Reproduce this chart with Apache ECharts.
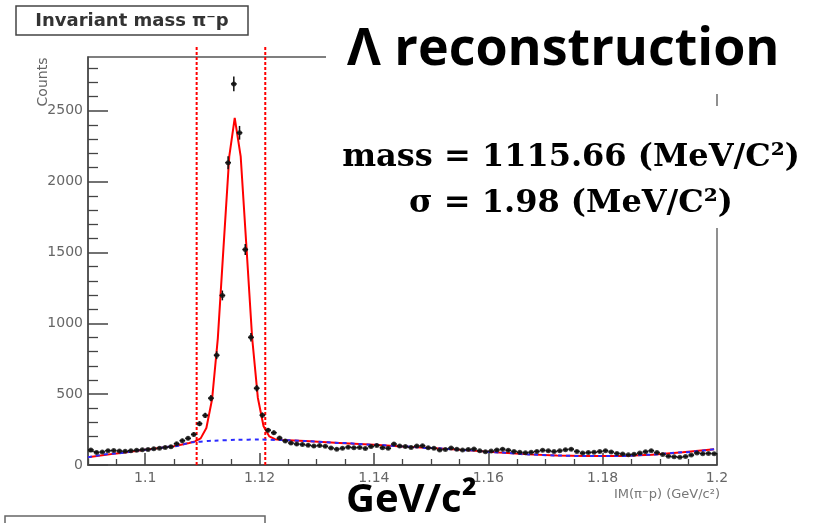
<!DOCTYPE html>
<html>
<head>
<meta charset="utf-8">
<script src="https://cdn.jsdelivr.net/npm/echarts@6/dist/echarts.min.js"></script>
<style>
  html, body { margin: 0; padding: 0; background: #fff; }
  #chart { width: 821px; height: 523px; }
</style>
</head>
<body>
<div id="chart"></div>
<script>
// Invariant mass of pi- p pairs: 1 MeV bins from 1.090 to 1.200 GeV/c^2
const histLow = 1.09;
const binWidth = 0.001;
const counts = [
  106, 88, 92, 101, 102, 99, 97, 101, 104, 108,
  110, 115, 119, 124, 129, 150, 172, 188, 216, 292,
  350, 472, 775, 1197, 2134, 2690, 2345, 1521, 901, 542,
  352, 246, 228, 190, 170, 155, 148, 145, 140, 134,
  137, 132, 120, 112, 118, 126, 122, 124, 117, 130,
  138, 122, 118, 148, 134, 130, 124, 134, 136, 122,
  118, 106, 110, 120, 112, 106, 110, 113, 100, 94,
  98, 106, 112, 104, 96, 90, 87, 90, 96, 104,
  100, 95, 100, 108, 112, 96, 84, 88, 90, 95,
  101, 92, 82, 78, 72, 76, 84, 94, 101, 88,
  75, 62, 58, 55, 60, 70, 85, 80, 82, 80
];

// Gaussian + polynomial fit (peak at 1115.66 MeV, sigma 1.98 MeV)
const fitX = [1.090, 1.095, 1.100, 1.105, 1.1077, 1.1087, 1.1097, 1.1107, 1.1117, 1.1127,
  1.1137, 1.1147, 1.11566, 1.1167, 1.1177, 1.1187, 1.1197, 1.1207, 1.1217, 1.1227,
  1.124, 1.128, 1.134, 1.140, 1.145, 1.150, 1.156, 1.162, 1.167, 1.172,
  1.177, 1.183, 1.1886, 1.194, 1.1995];
const fitY = [55, 82, 107, 132, 155, 167, 188, 261, 464, 892,
  1538, 2176, 2450, 2179, 1544, 900, 475, 274, 202, 182,
  176, 169, 156, 143, 131, 120, 105, 88, 75, 67,
  63, 63, 73, 90, 112];

// Background component of the fit
const bkgX = [1.090, 1.095, 1.100, 1.105, 1.1087, 1.112, 1.116, 1.120, 1.124, 1.128,
  1.134, 1.140, 1.145, 1.150, 1.156, 1.162, 1.167, 1.172, 1.177, 1.183,
  1.1886, 1.194, 1.1995];
const bkgY = [55, 82, 107, 132, 163, 172, 178, 180, 176, 169,
  156, 143, 131, 120, 105, 88, 75, 67, 63, 63,
  73, 90, 112];

// Signal window cuts
const cutLines = [1.109, 1.121];

// Axis ticks
const xMajorTicks = [1.1, 1.12, 1.14, 1.16, 1.18, 1.2];
const xMinorTicks = [1.09, 1.095, 1.105, 1.11, 1.115, 1.125, 1.13, 1.135, 1.145, 1.15, 1.155,
  1.165, 1.17, 1.175, 1.185, 1.19, 1.195];
const yMajorTicks = [0, 500, 1000, 1500, 2000, 2500];
const yMinorTicks = [100, 200, 300, 400, 600, 700, 800, 900, 1100, 1200, 1300, 1400,
  1600, 1700, 1800, 1900, 2100, 2200, 2300, 2400, 2600, 2700, 2800];

const binCenters = counts.map((_, i) => histLow + binWidth * (i + 0.5));
const histData = binCenters.map((x, i) => [x, counts[i]]);

const axisColor = '#444';
const labelColor = '#666';
const rootFont = 'DejaVu Sans';

const chart = echarts.init(document.getElementById('chart'), null, { renderer: 'canvas' });

const cutSeries = cutLines.map(c => ({
  type: 'line',
  data: [[c, 0], [c, 2960]],
  symbol: 'none',
  clip: false,
  silent: true,
  lineStyle: { color: '#ff0000', width: 2, type: [3, 2] },
  z: 3
}));

chart.setOption({
  animation: false,
  backgroundColor: '#fff',
  grid: {
    left: 88, top: 57, right: 104, bottom: 58,
    show: true, borderColor: '#555', borderWidth: 1.3, backgroundColor: 'transparent'
  },
  xAxis: [
    {
      type: 'value', min: 1.09, max: 1.2, position: 'bottom',
      axisLine: { show: true, onZero: false, lineStyle: { color: axisColor, width: 1.5 } },
      axisTick: { show: true, inside: true, length: 12, customValues: xMajorTicks,
        lineStyle: { color: axisColor, width: 1.5 } },
      axisLabel: { show: true, customValues: xMajorTicks, color: labelColor,
        fontFamily: rootFont, fontSize: 14, margin: 6,
        formatter: v => String(+(+v).toFixed(3)) },
      splitLine: { show: false }
    },
    {
      type: 'value', min: 1.09, max: 1.2, position: 'bottom',
      axisLine: { show: false },
      axisTick: { show: true, inside: true, length: 6, customValues: xMinorTicks,
        lineStyle: { color: axisColor, width: 1.3 } },
      axisLabel: { show: false },
      splitLine: { show: false }
    }
  ],
  yAxis: [
    {
      type: 'value', min: 0, max: 2880, position: 'left',
      axisLine: { show: true, onZero: false, lineStyle: { color: axisColor, width: 1.5 } },
      axisTick: { show: true, inside: true, length: 20, customValues: yMajorTicks,
        lineStyle: { color: axisColor, width: 1.5 } },
      axisLabel: { show: true, customValues: yMajorTicks, color: labelColor,
        fontFamily: rootFont, fontSize: 14, margin: 5,
        formatter: v => String(Math.round(v)) },
      splitLine: { show: false }
    },
    {
      type: 'value', min: 0, max: 2880, position: 'left',
      axisLine: { show: false },
      axisTick: { show: true, inside: true, length: 10, customValues: yMinorTicks,
        lineStyle: { color: axisColor, width: 1.3 } },
      axisLabel: { show: false },
      splitLine: { show: false }
    }
  ],
  series: [
    ...cutSeries,
    {
      type: 'line',
      data: fitX.map((x, i) => [x, fitY[i]]),
      symbol: 'none', smooth: false,
      lineStyle: { color: '#ff0000', width: 2 },
      z: 4
    },
    {
      type: 'line',
      data: bkgX.map((x, i) => [x, bkgY[i]]),
      symbol: 'none', smooth: 0.3, smoothMonotone: 'x',
      lineStyle: { color: '#2a2aff', width: 2, type: [4, 4] },
      z: 5
    },
    {
      type: 'custom',
      data: histData,
      renderItem(params, api) {
        const x = api.value(0), y = api.value(1), e = Math.sqrt(y);
        const top = api.coord([x, y + e]), bot = api.coord([x, y - e]);
        const l = api.coord([x - binWidth / 2, y]), r = api.coord([x + binWidth / 2, y]);
        return {
          type: 'group',
          children: [
            { type: 'line', shape: { x1: top[0], y1: top[1], x2: bot[0], y2: bot[1] },
              style: { stroke: '#111', lineWidth: 1.5 } },
            { type: 'line', shape: { x1: l[0], y1: l[1], x2: r[0], y2: r[1] },
              style: { stroke: '#111', lineWidth: 1.5 } }
          ]
        };
      },
      z: 6
    },
    {
      type: 'scatter',
      data: histData,
      symbol: 'circle', symbolSize: 5,
      itemStyle: { color: '#111' },
      z: 7
    }
  ],
  graphic: [
    // histogram title box
    { type: 'rect', z: 100, shape: { x: 16, y: 6, width: 232, height: 29 },
      style: { fill: '#fff', stroke: '#444', lineWidth: 1.5 } },
    { type: 'text', z: 101, x: 132, y: 21,
      style: { text: 'Invariant mass π⁻p', fontFamily: rootFont, fontWeight: 'bold', fontSize: 18,
        fill: '#333', align: 'center', verticalAlign: 'middle' } },
    // y-axis title
    { type: 'text', z: 101, x: 43, y: 82, rotation: Math.PI / 2,
      style: { text: 'Counts', fontFamily: rootFont, fontSize: 14, fill: labelColor,
        align: 'center', verticalAlign: 'middle' } },
    // x-axis title
    { type: 'text', z: 101, x: 720, y: 495,
      style: { text: 'IM(π⁻p) (GeV/c²)', fontFamily: rootFont, fontSize: 13, fill: '#777',
        align: 'right', verticalAlign: 'middle' } },
    // annotation panels
    { type: 'rect', z: 100, shape: { x: 326, y: 0, width: 495, height: 94 },
      style: { fill: '#fff' } },
    { type: 'rect', z: 100, shape: { x: 300, y: 106, width: 521, height: 122 },
      style: { fill: '#fff' } },
    { type: 'text', z: 101, x: 347, y: 24,
      style: { text: 'Λ reconstruction', fontFamily: 'Open Sans', fontWeight: 'bold', fontSize: 52,
        fill: '#000', align: 'left', verticalAlign: 'top' } },
    { type: 'text', z: 101, x: 571, y: 142,
      style: { text: 'mass = 1115.66 (MeV/C²)', fontFamily: 'DejaVu Serif', fontWeight: 'bold',
        fontSize: 32, fill: '#000', align: 'center', verticalAlign: 'top' } },
    { type: 'text', z: 101, x: 571, y: 188,
      style: { text: 'σ = 1.98 (MeV/C²)', fontFamily: 'DejaVu Serif', fontWeight: 'bold',
        fontSize: 32, fill: '#000', align: 'center', verticalAlign: 'top' } },
    { type: 'text', z: 101, x: 346, y: 481,
      style: { text: 'GeV/c²', fontFamily: 'Open Sans', fontWeight: 'bold', fontSize: 40,
        fill: '#000', align: 'left', verticalAlign: 'top' } },
    // edge of the neighbouring panel
    { type: 'rect', z: 100, shape: { x: 5, y: 516, width: 260, height: 30 },
      style: { fill: 'none', stroke: '#666', lineWidth: 1.5 } }
  ]
});
</script>
</body>
</html>
